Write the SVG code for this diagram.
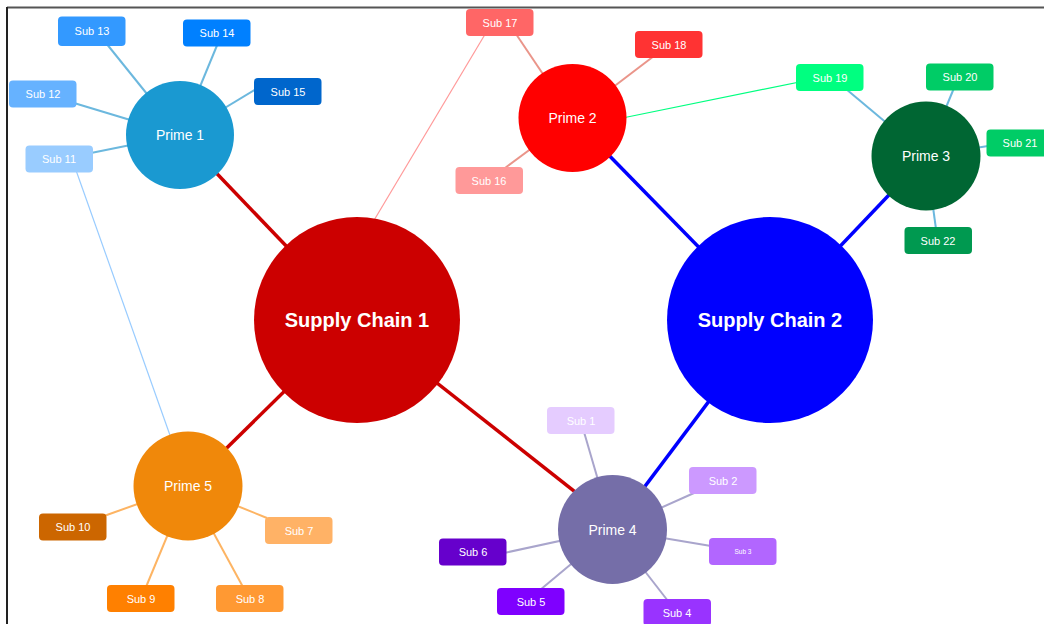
<svg xmlns="http://www.w3.org/2000/svg" width="1044" height="624" viewBox="0 0 1044 624">
  <style>
    text { font-family: "Liberation Sans", Arial, sans-serif; fill: #ffffff; text-anchor: middle; }
    .hub { font-size: 20px; font-weight: bold; }
    .prime { font-size: 14px; }
    .sub { font-size: 11px; }
    .main { stroke-width: 3.5; fill: none; }
    .branch { stroke-width: 2; fill: none; }
    .thin { stroke-width: 1.2; fill: none; }
  </style>

  <rect x="0" y="0" width="1044" height="624" fill="#ffffff"/>
  <!-- frame -->
  <line x1="7" y1="7.5" x2="1044" y2="7.5" stroke="#555555" stroke-width="2"/>
  <line x1="7" y1="7" x2="7" y2="624" stroke="#222222" stroke-width="2"/>

  <g id="connectors">
    <!-- hub links -->
    <line class="main" stroke="#cc0000" x1="357" y1="320" x2="180" y2="135"/>
    <line class="main" stroke="#cc0000" x1="357" y1="320" x2="188" y2="486"/>
    <line class="main" stroke="#cc0000" x1="357" y1="320" x2="612" y2="521"/>
    <line class="main" stroke="#0000ff" x1="770" y1="320" x2="572.5" y2="118"/>
    <line class="main" stroke="#0000ff" x1="770" y1="320" x2="926" y2="156"/>
    <line class="main" stroke="#0000ff" x1="770" y1="320" x2="612.5" y2="529.5"/>
    <!-- cross links -->
    <line class="thin" stroke="#ff9999" x1="370" y1="227" x2="490" y2="26"/>
    <line class="thin" stroke="#00ff80" x1="620" y1="118.5" x2="829" y2="76"/>
    <line class="thin" stroke="#99ccff" x1="72" y1="159" x2="188" y2="486"/>
    <!-- Prime 1 branches -->
    <line class="branch" stroke="#6cb8de" x1="180" y1="135" x2="106" y2="43"/>
    <line class="branch" stroke="#6cb8de" x1="180" y1="135" x2="218" y2="43"/>
    <line class="branch" stroke="#6cb8de" x1="180" y1="135" x2="256" y2="89"/>
    <line class="branch" stroke="#6cb8de" x1="180" y1="135" x2="74" y2="103"/>
    <line class="branch" stroke="#6cb8de" x1="180" y1="135" x2="91" y2="153"/>
    <!-- Prime 2 branches -->
    <line class="branch" stroke="#ea958a" x1="572.5" y1="118" x2="516" y2="34"/>
    <line class="branch" stroke="#ea958a" x1="572.5" y1="118" x2="654" y2="56"/>
    <line class="branch" stroke="#ea958a" x1="572.5" y1="118" x2="505" y2="168"/>
    <!-- Prime 3 branches -->
    <line class="branch" stroke="#6cb8de" x1="926" y1="156" x2="846" y2="89"/>
    <line class="branch" stroke="#6cb8de" x1="926" y1="156" x2="954" y2="88"/>
    <line class="branch" stroke="#6cb8de" x1="926" y1="156" x2="988" y2="146"/>
    <line class="branch" stroke="#6cb8de" x1="926" y1="156" x2="936" y2="229"/>
    <!-- Prime 5 branches -->
    <line class="branch" stroke="#fdb463" x1="188" y1="486" x2="104" y2="516"/>
    <line class="branch" stroke="#fdb463" x1="188" y1="486" x2="267" y2="518"/>
    <line class="branch" stroke="#fdb463" x1="188" y1="486" x2="146" y2="587"/>
    <line class="branch" stroke="#fdb463" x1="188" y1="486" x2="243" y2="587"/>
    <!-- Prime 4 branches -->
    <line class="branch" stroke="#a9a5cc" x1="612.5" y1="529.5" x2="584" y2="432"/>
    <line class="branch" stroke="#a9a5cc" x1="612.5" y1="529.5" x2="694" y2="493"/>
    <line class="branch" stroke="#a9a5cc" x1="612.5" y1="529.5" x2="711" y2="546"/>
    <line class="branch" stroke="#a9a5cc" x1="612.5" y1="529.5" x2="504" y2="553"/>
    <line class="branch" stroke="#a9a5cc" x1="612.5" y1="529.5" x2="540" y2="590"/>
    <line class="branch" stroke="#a9a5cc" x1="612.5" y1="529.5" x2="668" y2="601"/>
  </g>

  <!-- hubs -->
  <g id="supply-chain-1">
    <circle cx="357" cy="320" r="103" fill="#cc0000"/>
    <text class="hub" x="357" y="327">Supply Chain 1</text>
  </g>
  <g id="supply-chain-2">
    <circle cx="770" cy="320" r="103" fill="#0000ff"/>
    <text class="hub" x="770" y="327">Supply Chain 2</text>
  </g>

  <!-- primes -->
  <g id="prime-1">
    <circle cx="180" cy="135" r="54" fill="#1a99d1"/>
    <text class="prime" x="180" y="140">Prime 1</text>
  </g>
  <g id="prime-2">
    <circle cx="572.5" cy="118" r="54" fill="#ff0000"/>
    <text class="prime" x="572.5" y="123">Prime 2</text>
  </g>
  <g id="prime-3">
    <circle cx="926" cy="156" r="54.5" fill="#006633"/>
    <text class="prime" x="926" y="161">Prime 3</text>
  </g>
  <g id="prime-4">
    <circle cx="612.5" cy="529.5" r="54.5" fill="#756ea8"/>
    <text class="prime" x="612.5" y="534.5">Prime 4</text>
  </g>
  <g id="prime-5">
    <circle cx="188" cy="486" r="54.5" fill="#f0880a"/>
    <text class="prime" x="188" y="491">Prime 5</text>
  </g>

  <!-- subs around Prime 1 -->
  <g id="sub-13"><rect x="58" y="16.5" width="67.5" height="29.5" rx="4" fill="#3399ff"/><text class="sub" x="92" y="35">Sub 13</text></g>
  <g id="sub-14"><rect x="183" y="19.5" width="67.5" height="27" rx="4" fill="#0080ff"/><text class="sub" x="217" y="37">Sub 14</text></g>
  <g id="sub-15"><rect x="254" y="78" width="67.5" height="27" rx="4" fill="#0066cc"/><text class="sub" x="288" y="95.5">Sub 15</text></g>
  <g id="sub-12"><rect x="9" y="80.5" width="67.5" height="27" rx="4" fill="#66b2ff"/><text class="sub" x="43" y="98">Sub 12</text></g>
  <g id="sub-11"><rect x="25.5" y="145.5" width="67.5" height="27" rx="4" fill="#99ccff"/><text class="sub" x="59" y="163">Sub 11</text></g>

  <!-- subs around Prime 2 -->
  <g id="sub-17"><rect x="466" y="9" width="67.5" height="27" rx="4" fill="#ff6666"/><text class="sub" x="500" y="26.5">Sub 17</text></g>
  <g id="sub-18"><rect x="635" y="31" width="67.5" height="27" rx="4" fill="#ff3333"/><text class="sub" x="669" y="48.5">Sub 18</text></g>
  <g id="sub-16"><rect x="455.5" y="167" width="67.5" height="27" rx="4" fill="#ff9999"/><text class="sub" x="489" y="184.5">Sub 16</text></g>

  <!-- subs around Prime 3 -->
  <g id="sub-19"><rect x="796" y="64" width="67.5" height="27" rx="4" fill="#00ff80"/><text class="sub" x="830" y="81.5">Sub 19</text></g>
  <g id="sub-20"><rect x="926" y="63.5" width="67.5" height="27" rx="4" fill="#00cc66"/><text class="sub" x="960" y="81">Sub 20</text></g>
  <g id="sub-21"><rect x="986.5" y="129.5" width="67.5" height="27" rx="4" fill="#00cc66"/><text class="sub" x="1020" y="147">Sub 21</text></g>
  <g id="sub-22"><rect x="904.5" y="227" width="67.5" height="27" rx="4" fill="#009950"/><text class="sub" x="938" y="244.5">Sub 22</text></g>

  <!-- subs around Prime 5 -->
  <g id="sub-10"><rect x="39" y="513.5" width="67.5" height="27" rx="4" fill="#cc6600"/><text class="sub" x="73" y="531">Sub 10</text></g>
  <g id="sub-7"><rect x="265" y="517" width="67.5" height="27" rx="4" fill="#ffb266"/><text class="sub" x="299" y="534.5">Sub 7</text></g>
  <g id="sub-9"><rect x="107" y="585" width="67.5" height="27" rx="4" fill="#ff8000"/><text class="sub" x="141" y="602.5">Sub 9</text></g>
  <g id="sub-8"><rect x="216" y="585" width="67.5" height="27" rx="4" fill="#ff9933"/><text class="sub" x="250" y="602.5">Sub 8</text></g>

  <!-- subs around Prime 4 -->
  <g id="sub-1"><rect x="547" y="407" width="67.5" height="27" rx="4" fill="#e5ccff"/><text class="sub" x="581" y="424.5">Sub 1</text></g>
  <g id="sub-2"><rect x="689" y="467" width="67.5" height="27" rx="4" fill="#cc99ff"/><text class="sub" x="723" y="484.5">Sub 2</text></g>
  <g id="sub-3"><rect x="709" y="538" width="67.5" height="27" rx="4" fill="#b266ff"/><text x="743" y="553.5" style="font-size:6.5px">Sub 3</text></g>
  <g id="sub-6"><rect x="439" y="538.5" width="67.5" height="27" rx="4" fill="#6600cc"/><text class="sub" x="473" y="556">Sub 6</text></g>
  <g id="sub-5"><rect x="497" y="588" width="67.5" height="27" rx="4" fill="#7f00ff"/><text class="sub" x="531" y="605.5">Sub 5</text></g>
  <g id="sub-4"><rect x="643.5" y="599" width="67.5" height="27" rx="4" fill="#9933ff"/><text class="sub" x="677" y="616.5">Sub 4</text></g>
</svg>
